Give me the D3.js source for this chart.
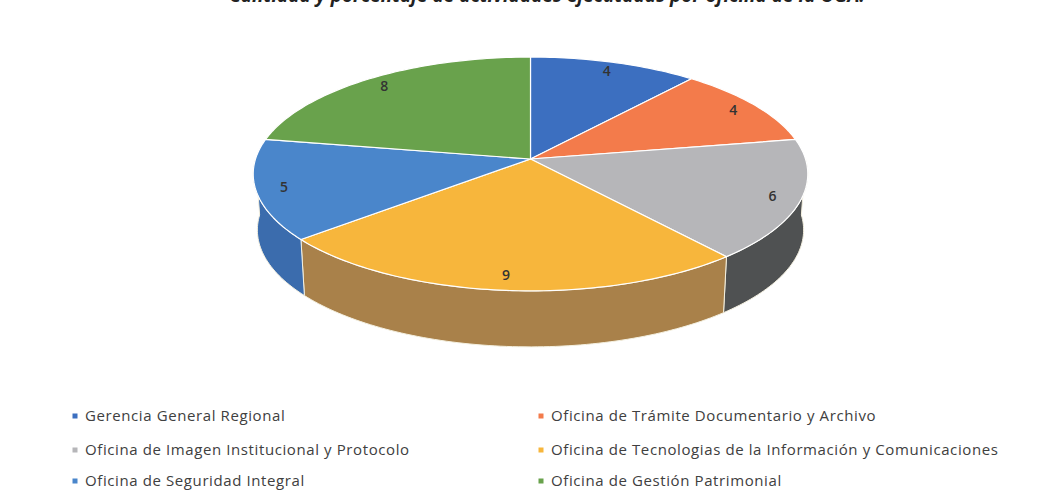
<!DOCTYPE html>
<html>
<head>
<meta charset="utf-8">
<script src="https://cdn.jsdelivr.net/npm/d3@7"></script>
<style>
  body { margin: 0; background: #fff; }
  svg { display: block; }
</style>
</head>
<body>
<div id="chart"></div>
<script>
// data
var oficinas = [
  "Gerencia General Regional",
  "Oficina de Trámite Documentario y Archivo",
  "Oficina de Imagen Institucional y Protocolo",
  "Oficina de Tecnologias de la Información y Comunicaciones",
  "Oficina de Seguridad Integral",
  "Oficina de Gestión Patrimonial"
];
var actividades = [4, 4, 6, 9, 5, 8];
var titulo = "Cantidad y porcentaje de actividades ejecutadas por oficina de la OGA.";

// colours (top face, side wall)
var colores = ["#3c6fc0", "#f37b4b", "#b6b6b9", "#f7b63c", "#4a86cb", "#69a24c"];
var coloresLado = ["#2f5c9e", "#c8633b", "#4f5152", "#a9814a", "#3b6cad", "#4f7f3a"];

var width = 1044, height = 502;

var svg = d3.select("#chart")
  .append("svg")
  .attr("width", width)
  .attr("height", height);

// title, cut off at the top of the picture (as in the scan)
svg.append("text")
  .attr("x", 547)
  .attr("y", 2)
  .attr("text-anchor", "middle")
  .attr("font-family", "Open Sans, sans-serif")
  .attr("font-style", "italic")
  .attr("font-weight", "bold")
  .attr("font-size", 19)
  .attr("fill", "#222")
  .text(titulo);

// perspective projection of the pie disk
var cx = 530.5, cy = 159, R = 275, k = 115, c = 0.128, depth = 56;
function proj(theta, f, level) {
  var X = f * Math.sin(theta), Z = -f * Math.cos(theta);
  var d = 1 - c * Z;
  var r = R * (1 - 0.015 * level);
  return [cx + r * X / d, cy + k * Z / d + depth * level];
}

var pie = d3.pie().sort(null).value(function(d) { return d; });
var arcs = pie(actividades);
var line = d3.line();

function arcPoints(a0, a1, level) {
  var n = Math.max(2, Math.ceil((a1 - a0) / 0.02));
  return d3.range(n + 1).map(function(i) {
    return proj(a0 + (a1 - a0) * i / n, 1, level);
  });
}

// side walls (front half only)
var front0 = Math.PI / 2, front1 = Math.PI * 1.5;
arcs.forEach(function(a, i) {
  var lo = Math.max(a.startAngle, front0), hi = Math.min(a.endAngle, front1);
  if (hi <= lo) return;
  var pts = arcPoints(lo, hi, 0).concat(arcPoints(lo, hi, 1).reverse());
  svg.append("path")
    .attr("d", line(pts) + "Z")
    .attr("fill", coloresLado[i])
    .attr("stroke", "#f4f0e0")
    .attr("stroke-width", 1);
});

// top faces
arcs.forEach(function(a, i) {
  var pts = [proj(0, 0, 0)].concat(arcPoints(a.startAngle, a.endAngle, 0));
  svg.append("path")
    .attr("d", line(pts) + "Z")
    .attr("fill", colores[i])
    .attr("stroke", "#fff")
    .attr("stroke-width", 1.2)
    .attr("stroke-linejoin", "round");
});

// data labels
arcs.forEach(function(a, i) {
  var p = proj((a.startAngle + a.endAngle) / 2, 0.9, 0);
  svg.append("text")
    .attr("x", p[0])
    .attr("y", p[1] + 5)
    .attr("text-anchor", "middle")
    .attr("font-family", "Open Sans, sans-serif")
    .attr("font-weight", 600)
    .attr("font-size", 14)
    .attr("fill", "#333")
    .text(actividades[i]);
});

// legend: two columns, three rows
var colX = [75, 541], rowY = [416, 450, 481];
var legend = svg.append("g");
oficinas.forEach(function(name, i) {
  var x = colX[i % 2], y = rowY[Math.floor(i / 2)];
  legend.append("rect")
    .attr("x", x - 2.5)
    .attr("y", y - 2.5)
    .attr("width", 5)
    .attr("height", 5)
    .attr("fill", colores[i]);
  legend.append("text")
    .attr("x", x + 10)
    .attr("y", y + 5)
    .attr("font-family", "Open Sans, sans-serif")
    .attr("font-size", 15)
    .attr("letter-spacing", 0.6)
    .attr("fill", "#404040")
    .text(name);
});
</script>
</body>
</html>
